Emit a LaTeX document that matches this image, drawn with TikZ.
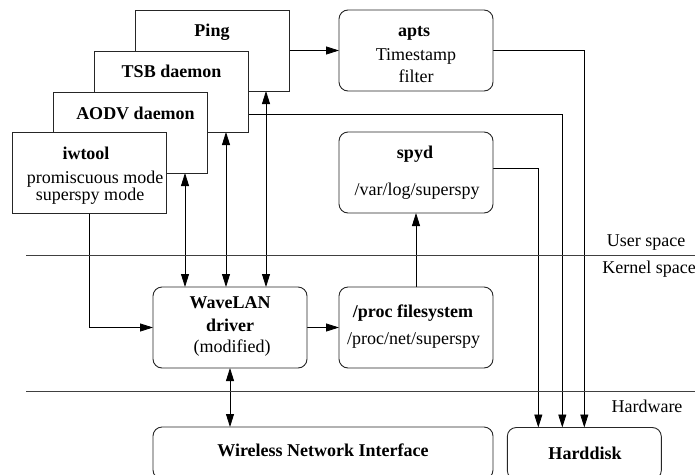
\documentclass[tikz,border=0pt]{standalone}
\usepackage{fontspec}
\setmainfont{Liberation Serif}
\usetikzlibrary{arrows.meta,calc}
\pgfdeclarelayer{bg}
\pgfsetlayers{bg,main}
\begin{document}
\begin{tikzpicture}[x=1pt,y=-1pt,
  every node/.style={font=\fontsize{18}{20}\selectfont},
  box/.style={draw=black!85, line width=0.9pt, fill=white, minimum width=154pt, minimum height=81pt, inner sep=0pt, outer sep=0pt},
  rbox/.style={box, rounded corners=9pt},
  txt/.style={anchor=base, inner sep=0pt},
  btxt/.style={txt, font=\fontsize{18}{20}\selectfont\bfseries},
  conn/.style={draw=black, line width=0.8pt},
  arr/.style={conn, -{Triangle[length=13pt,width=8pt]}},
  darr/.style={conn, {Triangle[length=13pt,width=8pt]}-{Triangle[length=13pt,width=8pt]}},
  sepline/.style={draw=black!75, line width=0.9pt}
]
\useasboundingbox (0,0) rectangle (695,474);
\clip (0,0) rectangle (695,474);

% separator lines
\draw[sepline] (26,255) -- (695,255);
\draw[sepline] (26,391) -- (695,391);
\node[txt] (lus) at (646,246) {User space};
\node[txt] (lks) at (649,273.3) {Kernel space};
\node[txt] (lhw) at (647,412.7) {Hardware};

% stacked user programs
\node[box] (ping) at (212,50.5) {};
\node[btxt] (tping) at (212,36.7) {Ping};
\node[box] (tsb) at (171,91.5) {};
\node[btxt] (ttsb) at (171.5,77.7) {TSB daemon};
\node[box] (aodv) at (130,132.5) {};
\node[btxt] (taodv) at (135.5,119) {AODV daemon};
\node[box] (iw) at (89.5,172.5) {};
\node[btxt] (tiw) at (86,159.3) {iwtool};
\node[txt] (tiw2) at (95,183) {promiscuous mode};
\node[txt] (tiw3) at (90,200.7) {superspy mode};

% right column
\node[rbox] (apts) at (416,50.5) {};
\node[btxt] (tapts) at (414,36.7) {apts};
\node[txt] (tapts2) at (416,60.7) {Timestamp};
\node[txt] (tapts3) at (416,82.7) {filter};

\node[rbox] (spyd) at (416,172.5) {};
\node[btxt] (tspyd) at (415,158.3) {spyd};
\node[txt] (tspyd2) at (417,195.7) {/var/log/superspy};

% kernel
\node[rbox] (wave) at (230,327.5) {};
\node[btxt] (twave) at (230,308.3) {WaveLAN};
\node[btxt] (twave2) at (230,331.7) {driver};
\node[txt] (twave3) at (232,352.7) {(modified)};

\node[rbox] (proc) at (416,327.5) {};
\node[btxt] (tproc) at (413,317.3) {/proc filesystem};
\node[txt] (tproc2) at (413.5,344.3) {/proc/net/superspy};

% hardware
\node[rbox, minimum width=340pt, minimum height=52pt] (wni) at (323,453) {};
\node[btxt] (twni) at (323,456.7) {Wireless Network Interface};
\node[rbox, minimum height=52pt] (hdd) at (584.3,453.5) {};
\node[btxt] (thdd) at (585,459.3) {Harddisk};

\coordinate (h1) at ($(hdd.north west)+(31,0)$);
\coordinate (h2) at ($(hdd.north west)+(55,0)$);

\begin{pgfonlayer}{bg}
  \draw[arr] (ping.east) -- (apts.west);
  \draw[arr] (apts.east) -| (hdd.north);
  \draw[arr] ([yshift=18.5pt]aodv.east) -| (h2);
  \draw[arr] ([yshift=4.5pt]spyd.east) -| (h1);
  \draw[arr] (proc.north) -- (spyd.south);
  \draw[arr] (wave.east) -- (proc.west);
  \draw[darr] (wave.south) -- (wave.south |- wni.north);
  \draw[arr] (iw.south) |- (wave.west);
  \draw[darr] ([xshift=-22pt]aodv.south east) -- ([xshift=-22pt]aodv.south east |- wave.north);
  \draw[darr] ([xshift=-22pt]tsb.south east) -- ([xshift=-22pt]tsb.south east |- wave.north);
  \draw[darr] ([xshift=-23pt]ping.south east) -- ([xshift=-23pt]ping.south east |- wave.north);
\end{pgfonlayer}
\end{tikzpicture}
\end{document}
